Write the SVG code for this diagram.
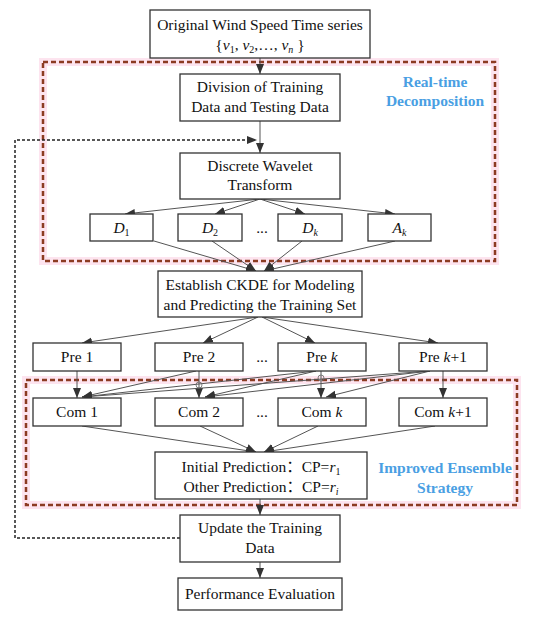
<svg xmlns="http://www.w3.org/2000/svg" width="550" height="620" viewBox="0 0 550 620">
<defs>
<marker id="ah" markerUnits="userSpaceOnUse" markerWidth="10" markerHeight="10" viewBox="0 0 10 10" refX="10" refY="5" orient="auto">
<path d="M0,1 L10,5 L0,9 Z" fill="#333"/>
</marker>
<marker id="ahr" markerUnits="userSpaceOnUse" markerWidth="10" markerHeight="10" viewBox="0 0 10 10" refX="10" refY="5" orient="auto">
<path d="M0,1 L10,5 L0,9 Z" fill="#6b2a1e"/>
</marker>
<style>
.box{fill:#fff;stroke:#333;stroke-width:1.3}
.t{font-family:"Liberation Serif","Times New Roman","Noto Sans CJK SC",serif;font-size:15.5px;fill:#111;text-anchor:middle}
.lbl{font-family:"Liberation Serif","Times New Roman",serif;font-size:15.5px;font-weight:bold;fill:#4a9fe3;text-anchor:middle}
.c{fill:none;stroke:#555;stroke-width:1;marker-end:url(#ah)}
.halo{fill:none;stroke:#fde4ef;stroke-width:8}
.red{fill:none;stroke:#8c3b22;stroke-width:2.5;stroke-dasharray:5 3}
.fb{fill:none;stroke:#222;stroke-width:1.5;stroke-dasharray:3 2}
.j{fill:none;stroke:#666;stroke-width:0.8}
</style>
</defs>
<rect width="550" height="620" fill="#fff"/>

<g id="regions">
<rect class="halo" x="43" y="62" width="452" height="199"/>
<rect class="red" x="43" y="62" width="452" height="199"/>
<rect class="halo" x="26" y="380" width="491" height="125"/>
<rect class="red" x="26" y="380" width="491" height="125"/>
<text class="lbl" x="435" y="87">Real-time</text>
<text class="lbl" x="435" y="106">Decomposition</text>
<text class="lbl" x="445" y="473">Improved Ensemble</text>
<text class="lbl" x="445" y="493">Strategy</text>
</g>

<g id="connectors">
<line class="c" x1="260" y1="58" x2="260" y2="74"/>
<line class="c" x1="260" y1="121" x2="260" y2="153"/>
<path class="fb" d="M180,538 H15 V140 H257" marker-end="url(#ah)"/>
<line class="c" x1="260" y1="199" x2="125" y2="214"/>
<line class="c" x1="260" y1="199" x2="215" y2="214"/>
<line class="c" x1="260" y1="199" x2="305" y2="214"/>
<line class="c" x1="260" y1="199" x2="395" y2="214"/>
<line class="c" x1="154" y1="241" x2="256" y2="271"/>
<line class="c" x1="212" y1="241" x2="256" y2="271"/>
<line class="c" x1="302" y1="241" x2="264" y2="271"/>
<line class="c" x1="395" y1="241" x2="264" y2="271"/>
<line class="c" x1="258" y1="317" x2="82" y2="343"/>
<line class="c" x1="258" y1="317" x2="203" y2="343"/>
<line class="c" x1="262" y1="317" x2="315" y2="343"/>
<line class="c" x1="262" y1="317" x2="438" y2="343"/>
<line class="c" x1="77" y1="371" x2="77" y2="398"/>
<line class="c" x1="199" y1="371" x2="199" y2="398"/>
<line class="c" x1="321" y1="371" x2="321" y2="398"/>
<line class="c" x1="443" y1="371" x2="443" y2="398"/>
<line class="c" x1="196" y1="371" x2="82" y2="397"/>
<line class="c" x1="316" y1="371" x2="82" y2="397"/>
<line class="c" x1="316" y1="371" x2="205" y2="397"/>
<line class="c" x1="430" y1="371" x2="82" y2="397"/>
<line class="c" x1="430" y1="371" x2="205" y2="397"/>
<line class="c" x1="430" y1="371" x2="326" y2="397"/>
<circle class="j" cx="199" cy="385" r="3"/>
<circle class="j" cx="321" cy="378" r="3"/>
<line class="c" x1="82" y1="426" x2="256" y2="452"/>
<line class="c" x1="200" y1="426" x2="256" y2="452"/>
<line class="c" x1="318" y1="426" x2="264" y2="452"/>
<line class="c" x1="435" y1="426" x2="264" y2="452"/>
<line class="c" x1="260" y1="499" x2="260" y2="515" marker-end="url(#ahr)"/>
<line class="c" x1="260" y1="562" x2="260" y2="578"/>
</g>

<g id="n-original">
<rect class="box" x="150" y="10" width="220" height="48"/>
<text class="t" x="260" y="30">Original Wind Speed Time series</text>
<text class="t" x="260" y="50">{<tspan font-style="italic">v</tspan><tspan font-size="10" dy="3">1</tspan><tspan dy="-3">, </tspan><tspan font-style="italic">v</tspan><tspan font-size="10" dy="3">2</tspan><tspan dy="-3">,…, </tspan><tspan font-style="italic">v</tspan><tspan font-size="10" font-style="italic" dy="3">n</tspan><tspan dy="-3"> }</tspan></text>
</g>
<g id="n-division">
<rect class="box" x="180" y="74" width="160" height="47"/>
<text class="t" x="260" y="92">Division of Training</text>
<text class="t" x="260" y="112">Data and Testing Data</text>
</g>
<g id="n-dwt">
<rect class="box" x="180" y="153" width="160" height="46"/>
<text class="t" x="260" y="171">Discrete Wavelet</text>
<text class="t" x="260" y="190">Transform</text>
</g>
<g id="n-d1">
<rect class="box" x="90" y="214" width="63" height="27"/>
<text class="t" x="121.5" y="233"><tspan font-style="italic">D</tspan><tspan font-size="10" dy="3">1</tspan></text>
</g>
<g id="n-d2">
<rect class="box" x="178" y="214" width="64" height="27"/>
<text class="t" x="210" y="233"><tspan font-style="italic">D</tspan><tspan font-size="10" dy="3">2</tspan></text>
</g>
<text class="t" x="262" y="233">...</text>
<g id="n-dk">
<rect class="box" x="278" y="214" width="64" height="27"/>
<text class="t" x="310" y="233"><tspan font-style="italic">D</tspan><tspan font-size="10" font-style="italic" dy="3">k</tspan></text>
</g>
<g id="n-ak">
<rect class="box" x="368" y="214" width="63" height="27"/>
<text class="t" x="399.5" y="233"><tspan font-style="italic">A</tspan><tspan font-size="10" font-style="italic" dy="3">k</tspan></text>
</g>
<g id="n-ckde">
<rect class="box" x="158" y="271" width="204" height="46"/>
<text class="t" x="260" y="290">Establish CKDE for Modeling</text>
<text class="t" x="260" y="310">and Predicting the Training Set</text>
</g>
<g id="n-pre1">
<rect class="box" x="33" y="343" width="88" height="28"/>
<text class="t" x="77" y="362">Pre 1</text>
</g>
<g id="n-pre2">
<rect class="box" x="155" y="343" width="88" height="28"/>
<text class="t" x="199" y="362">Pre 2</text>
</g>
<text class="t" x="262" y="362">...</text>
<g id="n-prek">
<rect class="box" x="278" y="343" width="88" height="28"/>
<text class="t" x="322" y="362">Pre <tspan font-style="italic">k</tspan></text>
</g>
<g id="n-prek1">
<rect class="box" x="399" y="343" width="88" height="28"/>
<text class="t" x="443" y="362">Pre <tspan font-style="italic">k</tspan>+1</text>
</g>
<g id="n-com1">
<rect class="box" x="33" y="398" width="88" height="28"/>
<text class="t" x="77" y="417">Com 1</text>
</g>
<g id="n-com2">
<rect class="box" x="155" y="398" width="88" height="28"/>
<text class="t" x="199" y="417">Com 2</text>
</g>
<text class="t" x="262" y="417">...</text>
<g id="n-comk">
<rect class="box" x="278" y="398" width="88" height="28"/>
<text class="t" x="322" y="417">Com <tspan font-style="italic">k</tspan></text>
</g>
<g id="n-comk1">
<rect class="box" x="399" y="398" width="88" height="28"/>
<text class="t" x="443" y="417">Com <tspan font-style="italic">k</tspan>+1</text>
</g>
<g id="n-initial">
<rect class="box" x="155" y="452" width="212" height="47"/>
<text class="t" x="261" y="472">Initial Prediction：CP=<tspan font-style="italic">r</tspan><tspan font-size="10" dy="3">1</tspan></text>
<text class="t" x="261" y="492">Other Prediction：CP=<tspan font-style="italic">r</tspan><tspan font-size="10" font-style="italic" dy="3">i</tspan></text>
</g>
<g id="n-update">
<rect class="box" x="180" y="515" width="160" height="47"/>
<text class="t" x="260" y="533">Update the Training</text>
<text class="t" x="260" y="553">Data</text>
</g>
<g id="n-perf">
<rect class="box" x="178" y="578" width="164" height="32"/>
<text class="t" x="260" y="599">Performance Evaluation</text>
</g>
</svg>
